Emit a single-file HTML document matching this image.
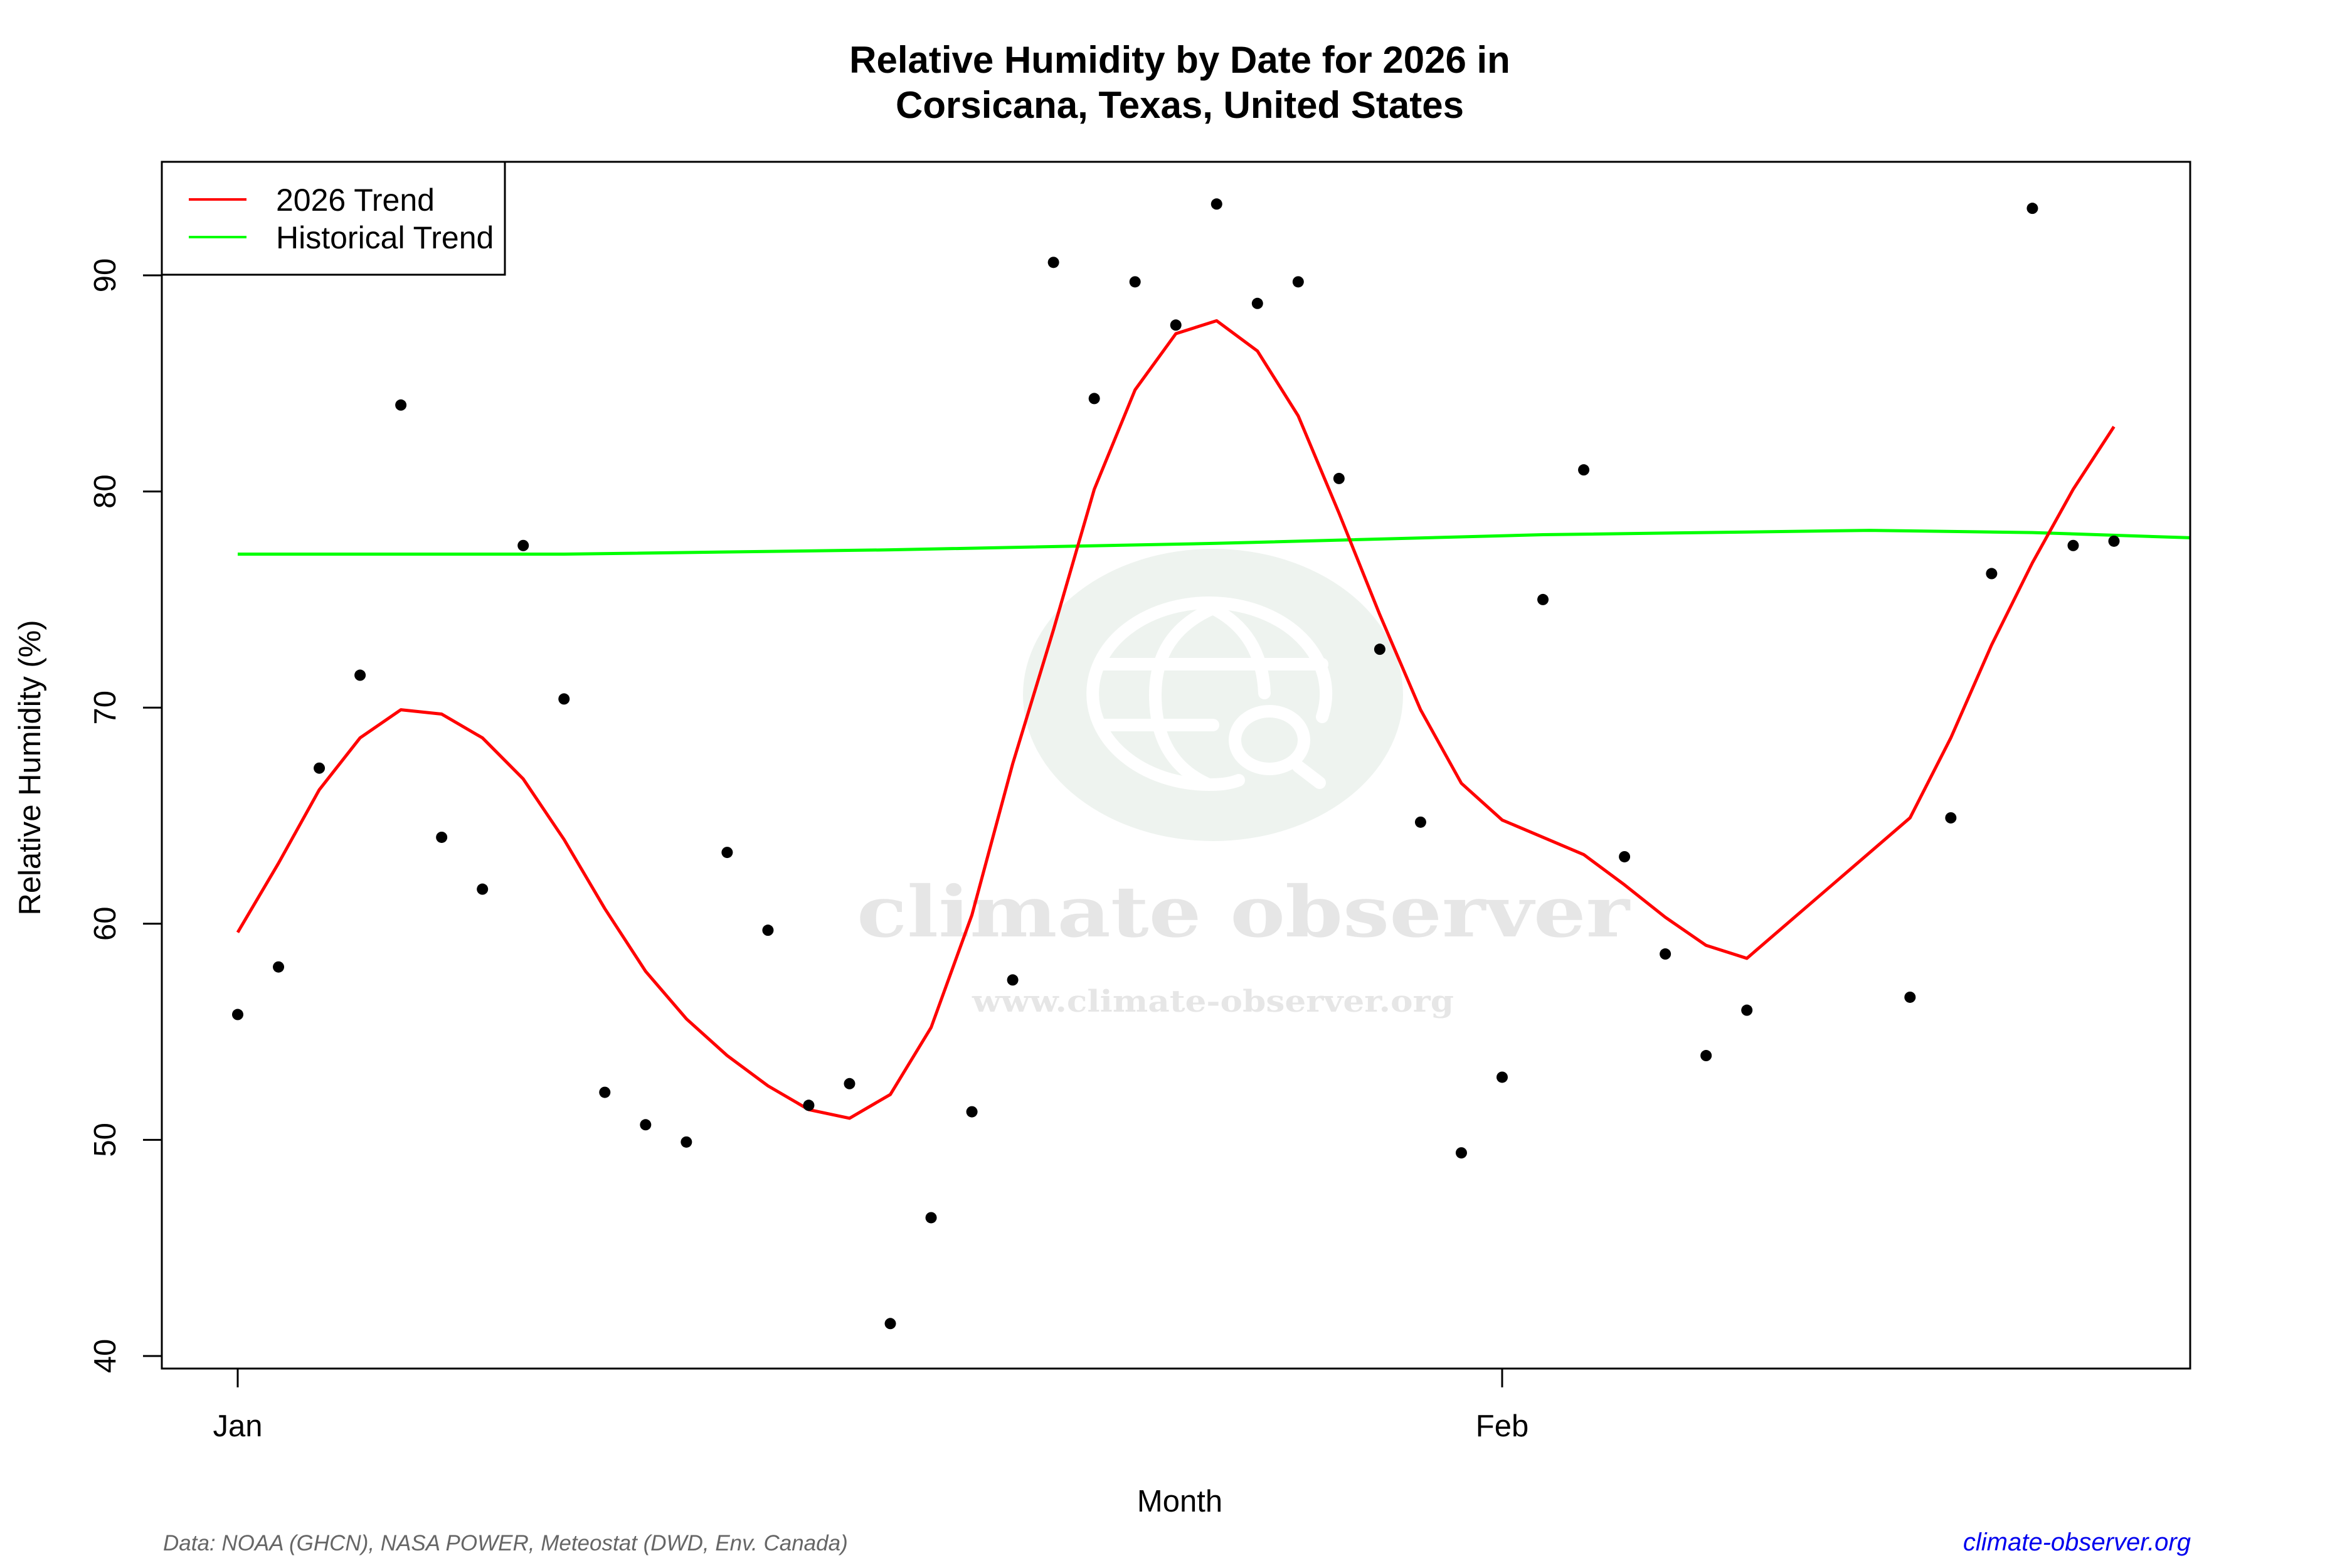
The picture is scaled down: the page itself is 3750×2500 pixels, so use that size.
<!DOCTYPE html>
<html><head><meta charset="utf-8"><style>
html,body{margin:0;padding:0;background:#fff;}
svg{display:block;font-family:"Liberation Sans",sans-serif;}
</style></head><body>
<svg id="chart" width="3750" height="2500" viewBox="0 0 3750 2500" xmlns="http://www.w3.org/2000/svg">
<rect width="3750" height="2500" fill="#fff"/>
<g>
<ellipse cx="1934" cy="1108" rx="303" ry="233" fill="#eef3ef"/>
<g fill="none" stroke="#fff" stroke-width="20" stroke-linecap="round">
<path d="M2108,1143 A186,145 0 1 0 1950,1250 Q1965,1248 1975,1244"/>
<path d="M1934,970 Q1842,1010 1842,1108 Q1842,1212 1925,1250"/>
<path d="M1934,970 Q2012,1010 2016,1105"/>
<line x1="1760" y1="1059" x2="2108" y2="1059"/>
<line x1="1760" y1="1156" x2="1934" y2="1156"/>
<ellipse cx="2024" cy="1180" rx="55" ry="46"/>
<line x1="2070" y1="1222" x2="2104" y2="1248"/>
</g>
<text x="1982" y="1493" text-anchor="middle" font-family="'DejaVu Serif',serif" font-weight="bold" font-size="112" fill="#e6e6e6" textLength="1232" lengthAdjust="spacingAndGlyphs">climate observer</text>
<text x="1934" y="1613" text-anchor="middle" font-family="'DejaVu Serif',serif" font-weight="bold" font-size="48" fill="#e6e6e6" textLength="768" lengthAdjust="spacingAndGlyphs">www.climate-observer.org</text>
</g>
<g id="plot"></g>
<text x="1881" y="116" text-anchor="middle" font-weight="bold" font-size="60">Relative Humidity by Date for 2026 in</text>
<text x="1881" y="188" text-anchor="middle" font-weight="bold" font-size="60">Corsicana, Texas, United States</text>
<text x="1881" y="2410" text-anchor="middle" font-size="49">Month</text>
<text transform="translate(64,1224) rotate(-90)" text-anchor="middle" font-size="49">Relative Humidity (%)</text>
<text x="260" y="2472" font-style="italic" font-size="35" fill="#666">Data: NOAA (GHCN), NASA POWER, Meteostat (DWD, Env. Canada)</text>
<text x="3493" y="2472" text-anchor="end" font-style="italic" font-size="40" fill="#0000ee">climate-observer.org</text>
<g>
<rect x="258" y="258" width="547" height="180" fill="#fff" stroke="#000" stroke-width="3"/>
<line x1="301" y1="318" x2="393" y2="318" stroke="#f00" stroke-width="4"/>
<line x1="301" y1="378" x2="393" y2="378" stroke="#0f0" stroke-width="4"/>
<text x="440" y="336" font-size="50">2026 Trend</text>
<text x="440" y="396" font-size="50">Historical Trend</text>
</g>
</svg>
<script>
const obsDays = [0,1,2,3,4,5,6,7,8,9,10,11,12,13,14,15,16,17,18,19,20,21,22,23,24,25,26,27,28,29,30,31,32,33,34,35,36,37,41,42,43,44,45,46];
const obsValues = [55.8,58.0,67.2,71.5,84.0,64.0,61.6,77.5,70.4,52.2,50.7,49.9,63.3,59.7,51.6,52.6,41.5,46.4,51.3,57.4,90.6,84.3,89.7,87.7,93.3,88.7,89.7,80.6,72.7,64.7,49.4,52.9,75.0,81.0,63.1,58.6,53.9,56.0,56.6,64.9,76.2,93.1,77.5,77.7];
const trendValues = [59.6,62.8,66.2,68.6,69.9,69.7,68.6,66.7,63.9,60.7,57.8,55.6,53.9,52.5,51.4,51.0,52.1,55.2,60.4,67.4,73.6,80.1,84.7,87.3,87.9,86.5,83.5,79.0,74.3,69.9,66.5,64.8,64.0,63.2,61.8,60.3,59.0,58.4,64.9,68.6,72.9,76.7,80.1,83.0];
const histDays = [0,8,16,24,32,40,44,48];
const histValues = [77.1,77.1,77.3,77.6,78.0,78.2,78.1,77.85];
const yTicks = [40,50,60,70,80,90];
const xTickDays = [0,31];
const xTickLabels = ["Jan","Feb"];

const L=258,R=3492,T=258,B=2182;
const xScale = d => 379 + d*(2395-379)/31;
const yScale = v => 439 + (90-v)*34.46;
const NS="http://www.w3.org/2000/svg";
const g=document.getElementById('plot');
function mk(tag,attrs){const e=document.createElementNS(NS,tag);for(const k in attrs)e.setAttribute(k,attrs[k]);g.appendChild(e);return e;}

const clip=document.createElementNS(NS,'clipPath');clip.setAttribute('id','pc');
const cr=document.createElementNS(NS,'rect');cr.setAttribute('x',L);cr.setAttribute('y',T);cr.setAttribute('width',R-L);cr.setAttribute('height',B-T);
clip.appendChild(cr);g.appendChild(clip);

const hl=mk('polyline',{points:histDays.map((d,i)=>xScale(d)+','+yScale(histValues[i])).join(' '),fill:'none',stroke:'#00ff00','stroke-width':5,'clip-path':'url(#pc)'});


const tl=mk('polyline',{points:obsDays.map((d,i)=>xScale(d)+','+yScale(trendValues[i])).join(' '),fill:'none',stroke:'#ff0000','stroke-width':5,'stroke-linejoin':'round'});


obsDays.forEach((d,i)=>{
  const c=mk('circle',{cx:xScale(d),cy:yScale(obsValues[i]),r:9,fill:'#000'});
  
  
});
const fr=mk('rect',{x:L,y:T,width:R-L,height:B-T,fill:'none',stroke:'#000','stroke-width':3});


const ya=mk('line',{x1:L,y1:yScale(40),x2:L,y2:yScale(90),stroke:'#000','stroke-width':3});


yTicks.forEach(v=>{
  const y=yScale(v);
  const t=mk('line',{x1:L-30,y1:y,x2:L,y2:y,stroke:'#000','stroke-width':3});
  
  
  const tx=mk('text',{transform:'translate(184,'+y+') rotate(-90)','text-anchor':'middle','font-size':49});
  tx.textContent=v;
  
  
});
xTickDays.forEach((d,i)=>{
  const x=xScale(d);
  const t=mk('line',{x1:x,y1:B,x2:x,y2:B+30,stroke:'#000','stroke-width':3});
  
  
  const tx=mk('text',{x:x,y:2290,'text-anchor':'middle','font-size':49});
  tx.textContent=xTickLabels[i];
  
  
});
</script>
</body></html>
